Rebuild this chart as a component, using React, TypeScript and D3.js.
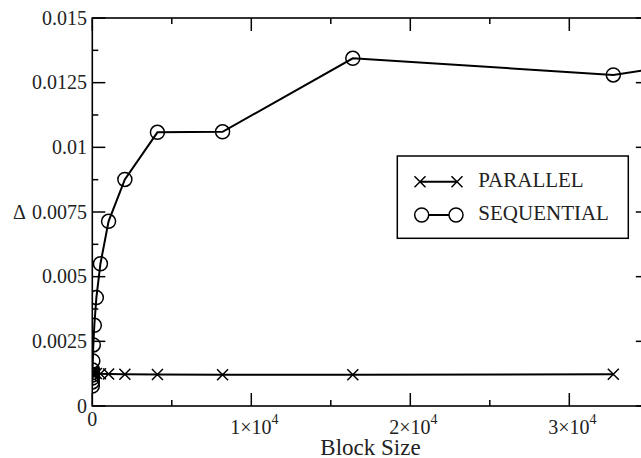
import React from "react";
import * as d3 from "d3";

const blockSizes = [1, 2, 4, 8, 16, 32, 64, 128, 256, 512, 1024, 2048, 4096, 8192, 16384, 32768];
const parallelValues = [0.00125, 0.00128, 0.0013, 0.00132, 0.0013, 0.00128, 0.00127, 0.00126, 0.00126, 0.00125, 0.00124, 0.00123, 0.00122, 0.00121, 0.00121, 0.00123];
const sequentialSizes = [1, 2, 4, 8, 16, 32, 64, 128, 256, 512, 1024, 2048, 4096, 8192, 16384, 32768, 65536];
const sequentialValues = [0.00077, 0.00093, 0.00108, 0.0012, 0.00139, 0.00174, 0.00236, 0.00312, 0.00419, 0.0055, 0.00714, 0.00876, 0.01058, 0.0106, 0.01344, 0.0128, 0.0158];
const yTicks = [0, 0.0025, 0.005, 0.0075, 0.01, 0.0125, 0.015];
const yTickLabels = ["0", "0.0025", "0.005", "0.0075", "0.01", "0.0125", "0.015"];
const xTicks = [0, 10000, 20000, 30000];
const xTickMantissa = ["0", "1", "2", "3"];
const xMinorTicks = [5000, 15000, 25000, 35000];
const yMinorTicks = [0.00125, 0.00375, 0.00625, 0.00875, 0.01125, 0.01375];
const seriesNames = ["PARALLEL", "SEQUENTIAL"];

const W = 641, H = 458;
const left = 92.3, right = 648.8, top = 18, bottom = 406;
const FONT = '"Liberation Serif", "Times New Roman", Times, serif';
const txt = { fontFamily: FONT };

export default function App() {
  const x = d3.scaleLinear().domain([0, 35000]).range([left, right]);
  const y = d3.scaleLinear().domain([0, 0.015]).range([bottom, top]);
  const line = d3.line<[number, number]>().x(d => x(d[0])).y(d => y(d[1]));
  const par: [number, number][] = blockSizes.map((b, i) => [b, parallelValues[i]]);
  const seq: [number, number][] = sequentialSizes.map((b, i) => [b, sequentialValues[i]]);
  const cross = (cx: number, cy: number, s = 5.5, key?: any) => (
    <path key={key} d={`M${cx - s},${cy - s}L${cx + s},${cy + s}M${cx - s},${cy + s}L${cx + s},${cy - s}`} stroke="#000" strokeWidth={1.5} fill="none" />
  );
  const major = 13, minor = 6;
  return (
    <svg width={W} height={H} style={{ position: "absolute", left: 0, top: 0, background: "#fff" }}>
      <defs>
        <clipPath id="plotclip">
          <rect x={left} y={top} width={right - left} height={bottom - top} />
        </clipPath>
      </defs>
      <rect width={W} height={H} fill="#fff" />
      <rect x={left} y={top} width={right - left} height={bottom - top} fill="none" stroke="#000" strokeWidth={1.6} />
      {xTicks.map(t => (
        <g key={"xt" + t}>
          <line x1={x(t)} x2={x(t)} y1={bottom} y2={bottom - major} stroke="#000" strokeWidth={1.5} />
          <line x1={x(t)} x2={x(t)} y1={top} y2={top + major} stroke="#000" strokeWidth={1.5} />
        </g>
      ))}
      {xMinorTicks.map(t => (
        <g key={"xm" + t}>
          <line x1={x(t)} x2={x(t)} y1={bottom} y2={bottom - minor} stroke="#000" strokeWidth={1.5} />
          <line x1={x(t)} x2={x(t)} y1={top} y2={top + minor} stroke="#000" strokeWidth={1.5} />
        </g>
      ))}
      {yTicks.map(t => (
        <g key={"yt" + t}>
          <line x1={left} x2={left + major} y1={y(t)} y2={y(t)} stroke="#000" strokeWidth={1.5} />
          <line x1={right} x2={right - major} y1={y(t)} y2={y(t)} stroke="#000" strokeWidth={1.5} />
        </g>
      ))}
      {yMinorTicks.map(t => (
        <g key={"ym" + t}>
          <line x1={left} x2={left + minor} y1={y(t)} y2={y(t)} stroke="#000" strokeWidth={1.5} />
          <line x1={right} x2={right - minor} y1={y(t)} y2={y(t)} stroke="#000" strokeWidth={1.5} />
        </g>
      ))}
      {yTicks.map((t, i) => (
        <text key={"yl" + t} x={87} y={y(t)} dy="0.33em" textAnchor="end" style={txt} fontSize={20} fill="#222">{yTickLabels[i]}</text>
      ))}
      <text x={19.5} y={y(0.0075)} dy="0.33em" textAnchor="middle" style={txt} fontSize={20} fill="#222">Δ</text>
      {xTicks.map((t, i) => i === 0 ? (
        <text key={"xl" + t} x={x(t)} y={426} textAnchor="middle" style={txt} fontSize={20} fill="#222">{xTickMantissa[i]}</text>
      ) : (
        <text key={"xl" + t} x={x(t) + 3} y={434} textAnchor="middle" style={txt} fontSize={20} fill="#222">
          <tspan>{xTickMantissa[i]}×10</tspan>
          <tspan dy={-10} fontSize={14}>4</tspan>
        </text>
      ))}
      <text x={370.5} y={455} textAnchor="middle" style={txt} fontSize={23} fill="#222">Block Size</text>
      <g clipPath="url(#plotclip)">
        <path d={line(par) || ""} fill="none" stroke="#000" strokeWidth={2} />
        <path d={line(seq) || ""} fill="none" stroke="#000" strokeWidth={2} />
        {par.map((d, i) => cross(x(d[0]), y(d[1]), 5.5, "pc" + i))}
        {seq.map((d, i) => (
          <circle key={"sc" + i} cx={x(d[0])} cy={y(d[1])} r={7} fill="none" stroke="#000" strokeWidth={1.5} />
        ))}
      </g>
      <rect x={397.3} y={156} width={231} height={82.3} fill="#fff" stroke="#000" strokeWidth={1.5} />
      <line x1={420} x2={457} y1={181.7} y2={181.7} stroke="#000" strokeWidth={2} />
      {cross(420, 181.7, 5.5, "l1")}
      {cross(457, 181.7, 5.5, "l2")}
      <text x={478.3} y={186.7} style={txt} fontSize={21} fill="#222">{seriesNames[0]}</text>
      <line x1={421.7} x2={456} y1={215} y2={215} stroke="#000" strokeWidth={2} />
      <circle cx={421.7} cy={215} r={7} fill="#fff" stroke="#000" strokeWidth={1.5} />
      <circle cx={456} cy={215} r={7} fill="#fff" stroke="#000" strokeWidth={1.5} />
      <text x={478.3} y={220} style={txt} fontSize={21} fill="#222">{seriesNames[1]}</text>
    </svg>
  );
}
